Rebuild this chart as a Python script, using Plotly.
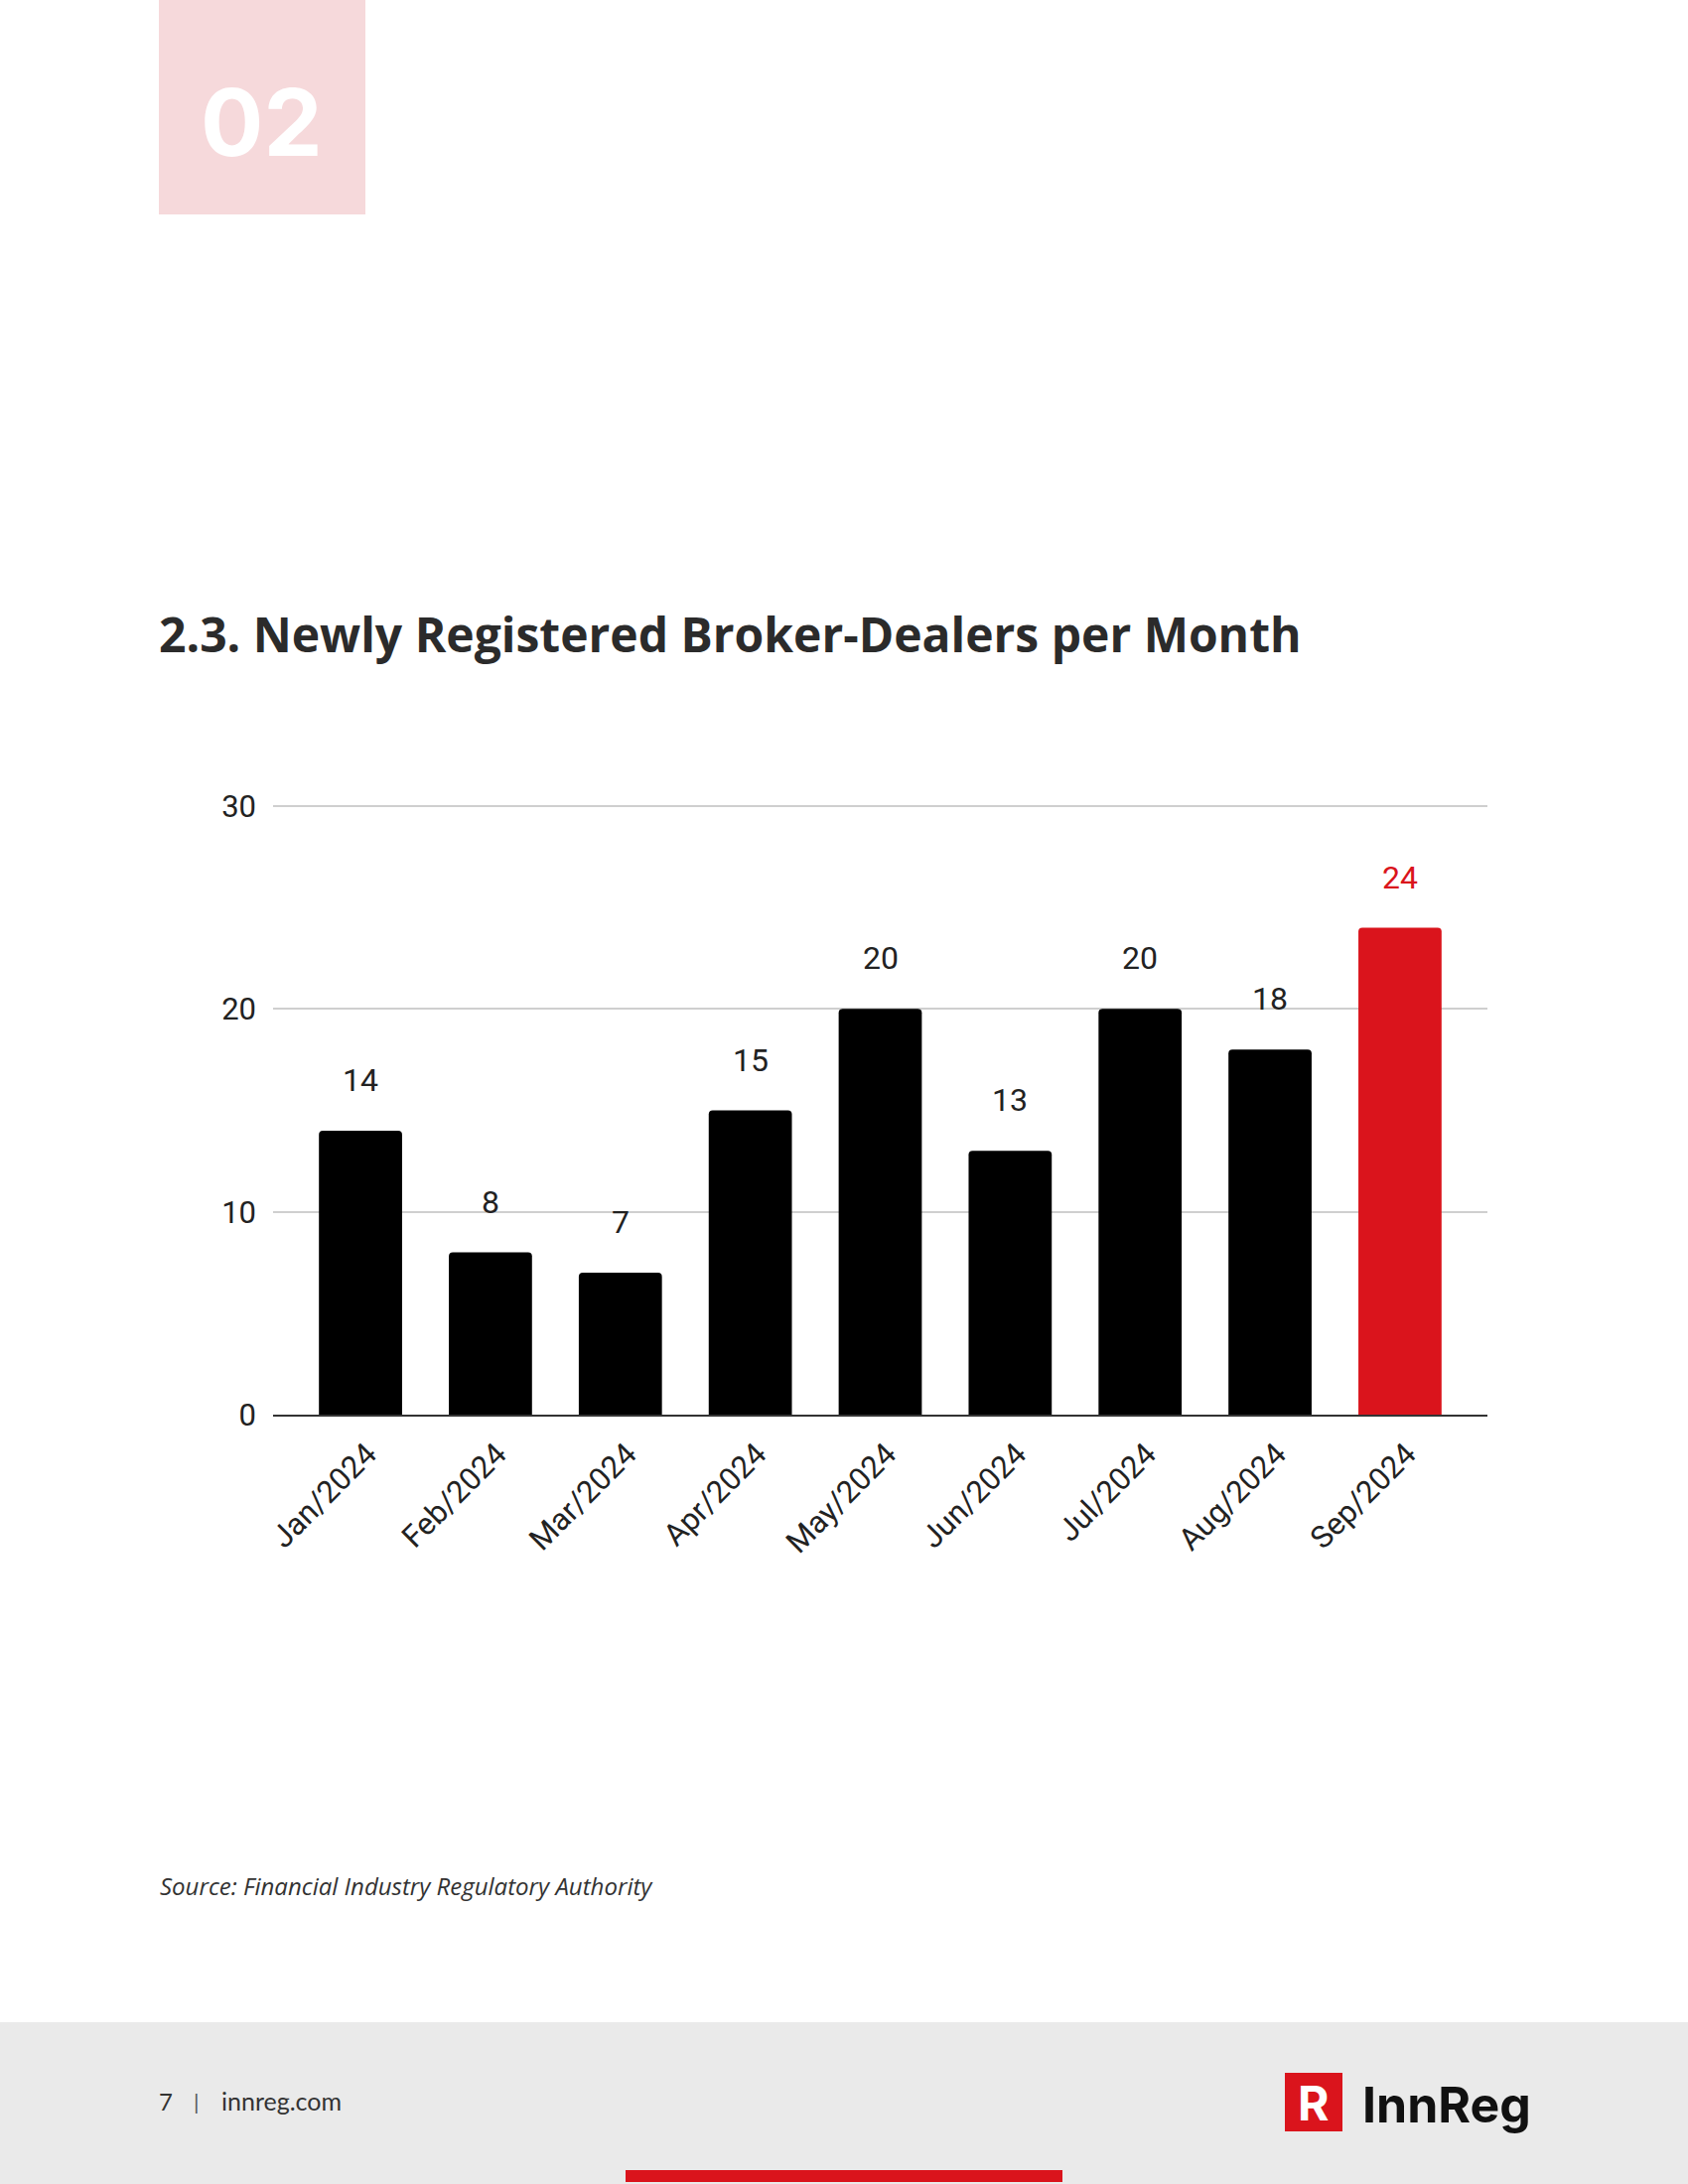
import plotly.graph_objects as go

months = ["Jan/2024", "Feb/2024", "Mar/2024", "Apr/2024", "May/2024",
          "Jun/2024", "Jul/2024", "Aug/2024", "Sep/2024"]
dealers = [14, 8, 7, 15, 20, 13, 20, 18, 24]
y_ticks = [0, 10, 20, 30]

BLACK = "#000000"
RED = "#DA141C"
TEXT = "#222222"
W, H = 1700, 2200


def px(x):
    return x / W


def py(y):
    return 1 - y / H


bar_colors = [RED if i == len(dealers) - 1 else BLACK for i in range(len(dealers))]
label_colors = [RED if i == len(dealers) - 1 else TEXT for i in range(len(dealers))]

fig = go.Figure()
fig.add_trace(go.Bar(
    x=months, y=dealers,
    marker=dict(color=bar_colors, cornerradius=4, line=dict(width=0)),
    width=0.64,
    hoverinfo="skip",
))

annotations = []
for m, v, c in zip(months, dealers, label_colors):
    annotations.append(dict(
        x=m, y=v, xref="x", yref="y", text=str(v), showarrow=False,
        yanchor="middle", yshift=51,
        font=dict(family="Roboto", size=32, color=c),
    ))

# page texts
annotations += [
    dict(x=px(263), y=py(123), xref="paper", yref="paper", text="<b>02</b>",
         showarrow=False, xanchor="center", yanchor="middle",
         font=dict(family="Inter", size=94, color="white", weight=800)),
    dict(x=px(158), y=py(638), xref="paper", yref="paper",
         text="2.3. Newly Registered Broker-Dealers per Month",
         showarrow=False, xanchor="left", yanchor="middle",
         font=dict(family="Open Sans", size=48, color="#2B2B2B", weight=700)),
    dict(x=px(159), y=py(1899), xref="paper", yref="paper",
         text="<i>Source: Financial Industry Regulatory Authority</i>",
         showarrow=False, xanchor="left", yanchor="middle",
         font=dict(family="Open Sans", size=24, color="#333333")),
    dict(x=px(158), y=py(2116), xref="paper", yref="paper",
         text="7", showarrow=False, xanchor="left", yanchor="middle",
         font=dict(family="Lato", size=24, color="#333333")),
    dict(x=px(198), y=py(2116), xref="paper", yref="paper",
         text="|", showarrow=False, xanchor="center", yanchor="middle",
         font=dict(family="Lato", size=22, color="#555555")),
    dict(x=px(221), y=py(2116), xref="paper", yref="paper",
         text="innreg.com", showarrow=False, xanchor="left", yanchor="middle",
         font=dict(family="Lato", size=25, color="#333333")),
    dict(x=px(1323), y=py(2118), xref="paper", yref="paper",
         text="<b>R</b>",
         showarrow=False, xanchor="center", yanchor="middle",
         font=dict(family="Inter", size=48, color="white")),
    dict(x=px(1370), y=py(2120), xref="paper", yref="paper",
         text="<b>InnReg</b>",
         showarrow=False, xanchor="left", yanchor="middle",
         font=dict(family="Inter", size=50, color="#111111")),
]

shapes = [
    dict(type="rect", xref="paper", yref="paper", x0=px(160), x1=px(368),
         y0=py(216), y1=py(0), fillcolor="#F6D9DB", line=dict(width=0), layer="below"),
    dict(type="rect", xref="paper", yref="paper", x0=0, x1=1,
         y0=0, y1=py(2037), fillcolor="#EAEAEA", line=dict(width=0), layer="below"),
    dict(type="rect", xref="paper", yref="paper", x0=px(630), x1=px(1070),
         y0=py(2198), y1=py(2186), fillcolor=RED, line=dict(width=0)),
    dict(type="rect", xref="paper", yref="paper", x0=px(1294), x1=px(1352),
         y0=py(2147), y1=py(2088), fillcolor=RED, line=dict(width=0), layer="below"),
]

fig.update_layout(
    width=W, height=H,
    margin=dict(l=0, r=0, t=0, b=0, autoexpand=False),
    paper_bgcolor="white", plot_bgcolor="white",
    showlegend=False,
    annotations=annotations,
    shapes=shapes,
    xaxis=dict(
        domain=[px(275), px(1498)],
        range=[-0.673, len(months) - 1 + 0.673],
        tickangle=-45,
        tickfont=dict(family="Roboto", size=31, color=TEXT),
        showline=True, linecolor="#333333", linewidth=2,
        showgrid=False, ticks="", zeroline=False,
        ticklabelstandoff=7, ticklabelshift=7,
        fixedrange=True,
    ),
    yaxis=dict(
        domain=[py(1425), py(812 - 0.2 * 20.43)],
        range=[0, 30.2],
        tickvals=y_ticks,
        tickfont=dict(family="Roboto", size=31, color=TEXT),
        showgrid=True, gridcolor="#CFCFCF", gridwidth=1.5,
        zeroline=False, showline=False, ticks="",
        ticklabelstandoff=16,
        fixedrange=True,
    ),
)

fig.write_html("out.html", config={"displayModeBar": False},
               post_script="document.body.style.margin='0';document.body.style.padding='0';")
